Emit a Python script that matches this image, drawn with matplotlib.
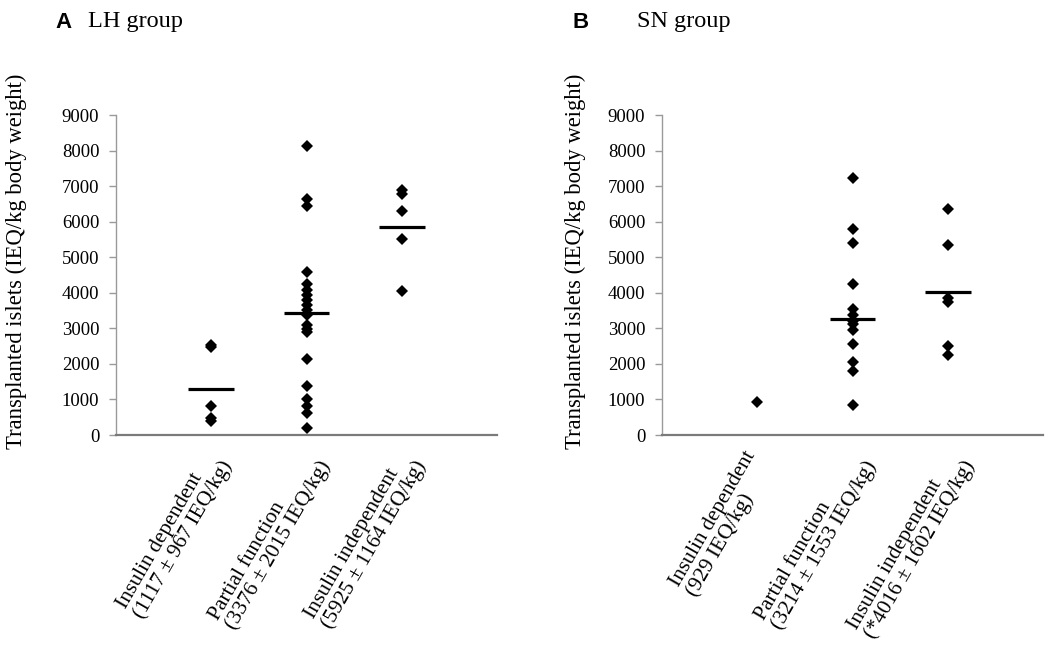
import matplotlib
matplotlib.use("Agg")
import matplotlib.pyplot as plt

# ---------------- data ----------------
categories = [1, 2, 3]

lh_labels = ["Insulin dependent\n(1117 \u00b1 967 IEQ/kg)",
             "Partial function\n(3376 \u00b1 2015 IEQ/kg)",
             "Insulin independent\n(5925 \u00b1 1164 IEQ/kg)"]
sn_labels = ["Insulin dependent\n(929 IEQ/kg)",
             "Partial function\n(3214 \u00b1 1553 IEQ/kg)",
             "Insulin independent\n(*4016 \u00b1 1602 IEQ/kg)"]

lh_dependent = [2520, 2480, 815, 470, 400]
lh_partial = [8130, 6640, 6450, 4580, 4240, 4080, 3940, 3800, 3660, 3520,
              3380, 3100, 2990, 2890, 2130, 1380, 1000, 820, 620, 190]
lh_independent = [6900, 6780, 6310, 5510, 4060]
lh_means = [1300, 3440, 5860]

sn_dependent = [920]
sn_partial = [7240, 5780, 5390, 4260, 3530, 3370, 3220, 3110, 2940, 2550,
              2050, 1810, 850]
sn_independent = [6350, 5350, 3850, 3740, 2490, 2240]
sn_means = [None, 3250, 4020]

y_ticks = [0, 1000, 2000, 3000, 4000, 5000, 6000, 7000, 8000, 9000]
ylabel = "Transplanted islets (IEQ/kg body weight)"

SERIF = ["Liberation Serif", "DejaVu Serif"]
SANS = ["Liberation Sans", "DejaVu Sans"]

W, H = 1050, 650
fig = plt.figure(figsize=(10.5, 6.5), dpi=100)

axA = fig.add_axes([116/W, 1-435/H, 381/W, 320/H])
axB = fig.add_axes([662/W, 1-435/H, 381/W, 320/H])


def draw(ax, groups, means, labels, ylab_px):
    for c, vals in zip(categories, groups):
        ax.plot([c]*len(vals), vals, linestyle="none", marker="D",
                markersize=6.0, color="black", markeredgewidth=0)
    for c, m in zip(categories, means):
        if m is not None:
            ax.plot([c-0.24, c+0.24], [m, m], color="black", lw=2.3,
                    solid_capstyle="butt")
    ax.set_xlim(0, 4)
    ax.set_ylim(0, 9000)
    ax.set_yticks(y_ticks)
    ax.set_yticklabels([str(t) for t in y_ticks], family=SERIF, fontsize=13.5)
    ax.set_xticks([])
    for s in ["top", "right"]:
        ax.spines[s].set_visible(False)
    ax.spines["left"].set_color("#9a9a9a")
    ax.spines["left"].set_linewidth(1.0)
    ax.spines["bottom"].set_color("#7a7a7a")
    ax.spines["bottom"].set_linewidth(1.6)
    ax.tick_params(axis="y", direction="out", length=5, width=1.0,
                   color="#9a9a9a", pad=7)
    fig.text(ylab_px/W, 1-261/H, ylabel, family=SERIF, fontsize=16.3,
             rotation=90, ha="center", va="center")
    for c, lab in zip(categories, labels):
        ax.annotate(lab, xy=(c, 0), xycoords="data",
                    xytext=(-36, -13), textcoords="offset pixels",
                    rotation=60, ha="center", va="top",
                    multialignment="left", family=SERIF, fontsize=15.5,
                    linespacing=1.0, annotation_clip=False)


draw(axA, [lh_dependent, lh_partial, lh_independent], lh_means, lh_labels, 16)
draw(axB, [sn_dependent, sn_partial, sn_independent], sn_means, sn_labels, 575)

fig.text(55/W, 1-22/H, "A", family=SANS, fontweight="bold",
         fontsize=16, va="center", ha="left")
fig.text(88/W, 1-22/H, "LH group", family=SERIF, fontsize=17.5,
         va="center", ha="left")
fig.text(573/W, 1-22/H, "B", family=SANS, fontweight="bold",
         fontsize=16, va="center", ha="left")
fig.text(637/W, 1-22/H, "SN group", family=SERIF, fontsize=17.5,
         va="center", ha="left")

fig.savefig("out.png", dpi=100, facecolor="white")
